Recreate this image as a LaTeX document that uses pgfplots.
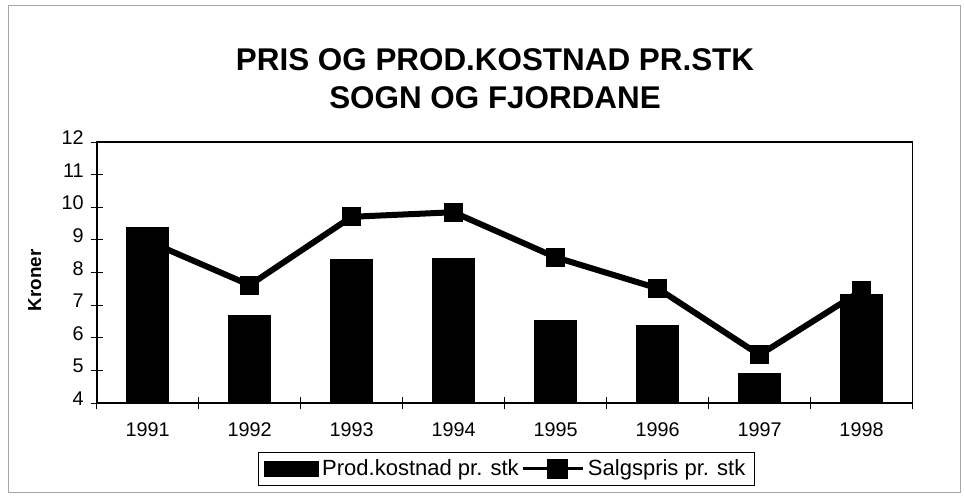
\documentclass[border=0pt]{standalone}
\usepackage{pgfplots}
\pgfplotsset{compat=1.18}
\usepackage{fontspec}
\setmainfont{Liberation Sans}
\begin{document}
\begin{tikzpicture}
\useasboundingbox (0,0) rectangle (482pt,248pt);
\draw[gray!70, line width=0.4pt] (4pt,2pt) rectangle (480pt,245.5pt);
\begin{axis}[
  at={(48.35pt,46.35pt)}, anchor=south west,
  scale only axis, width=407.9pt, height=130.65pt,
  xmin=0.5, xmax=8.5, ymin=4, ymax=12,
  ytick={4,5,...,12},
  xtick={0.5,1.5,...,8.5}, xticklabels={},
  extra x ticks={1,2,3,4,5,6,7,8},
  extra x tick labels={1991,1992,1993,1994,1995,1996,1997,1998},
  extra x tick style={major tick length=0pt},
  xtick pos=bottom, ytick pos=left,
  tick align=center, major tick length=6pt,
  tick style={black, line width=0.5pt},
  axis line style={line width=0.8pt},
  /pgf/number format/assume math mode=true,
  ticklabel style={font=\fontsize{9.9pt}{10pt}\selectfont},
  yticklabel style={anchor=east, xshift=0pt, yshift=2.2pt},
  xticklabel style={yshift=-6.3pt},
  ylabel={\textbf{Kroner}},
  ylabel style={font=\fontsize{9.4pt}{10pt}\selectfont, at={(axis description cs:-0.076,0.47)}, anchor=center},
  legend columns=2,
  legend style={at={(axis description cs:0.502,-0.2514)}, anchor=center,
    draw=black, line width=0.5pt, font=\fontsize{11pt}{12pt}\selectfont,
    inner xsep=3pt, inner ysep=1.5pt,
    nodes={inner xsep=1.5pt, inner ysep=2pt}},
]
\addplot[ybar, bar width=21pt, bar shift=0pt, fill=black, draw=black,
  legend image code/.code={\fill[black] (0cm,-0.125cm) rectangle (0.95cm,0.125cm);}]
  coordinates {(1,9.39) (2,6.68) (3,8.41) (4,8.44) (5,6.53) (6,6.38) (7,4.92) (8,7.34)};
\addlegendentry{Prod.kostnad pr. stk}
\addplot[black, line width=3pt, mark=square*, mark size=4.5pt,
  mark options={solid, line width=0pt, fill=black},
  legend image code/.code={\draw[line width=1.5pt] (0cm,0cm) -- (1.06cm,0cm);
    \fill[black] (0.48cm,-3.7pt) rectangle ++(7.4pt,7.4pt);}]
  coordinates {(1,8.97) (2,7.62) (3,9.71) (4,9.85) (5,8.47) (6,7.52) (7,5.48) (8,7.45)};
\addlegendentry{Salgspris pr. stk}
\end{axis}
\node[font=\bfseries\fontsize{15.7pt}{17pt}\selectfont, anchor=center] at (247.5pt,218pt) {PRIS OG PROD.KOSTNAD PR.STK};
\node[font=\bfseries\fontsize{15.7pt}{17pt}\selectfont, anchor=center] at (247.5pt,199pt) {SOGN OG FJORDANE};
\end{tikzpicture}
\end{document}
